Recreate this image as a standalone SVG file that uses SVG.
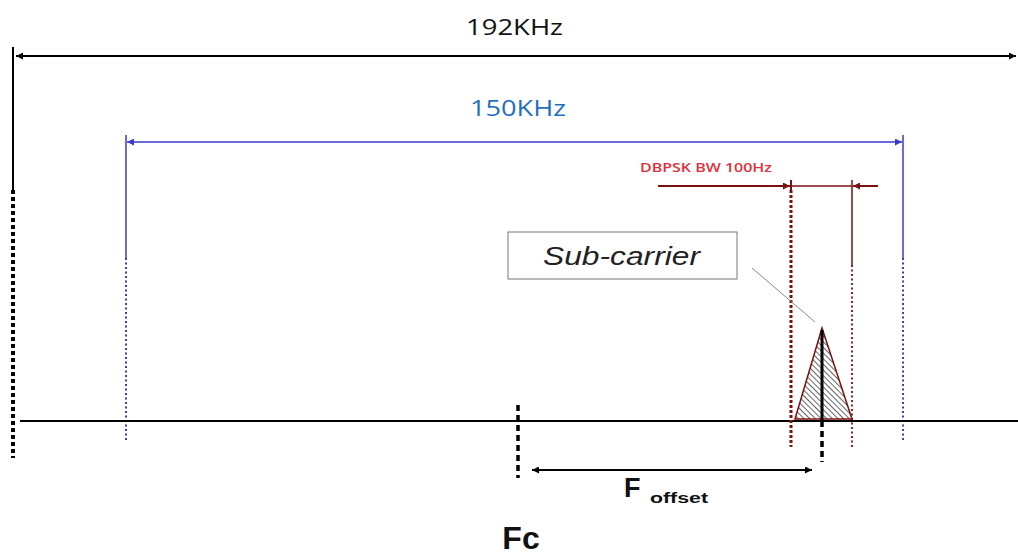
<svg xmlns="http://www.w3.org/2000/svg" width="1018" height="556" viewBox="0 0 1018 556">
<style>
.t{font-family:"Liberation Sans",Arial,sans-serif}
.o{font-family:"Open Sans","Liberation Sans",sans-serif}
.blk{stroke:#000;fill:none}
.blu{stroke:#3a3ad0;fill:none}
.red{stroke:#7a1010;fill:none}
</style>
<defs>
<marker id="abk" viewBox="0 0 10 10" refX="10" refY="5" markerWidth="9" markerHeight="7" orient="auto-start-reverse" markerUnits="userSpaceOnUse"><path d="M0,0 L10,5 L0,10 Z" fill="#000"/></marker>
<marker id="abl" viewBox="0 0 10 10" refX="10" refY="5" markerWidth="9" markerHeight="7" orient="auto-start-reverse" markerUnits="userSpaceOnUse"><path d="M0,0 L10,5 L0,10 Z" fill="#3a3ad0"/></marker>
<marker id="ar" viewBox="0 0 10 10" refX="10" refY="5" markerWidth="9" markerHeight="7" orient="auto" markerUnits="userSpaceOnUse"><path d="M0,0 L10,5 L0,10 Z" fill="#7a1010"/></marker>
<pattern id="hatch" patternUnits="userSpaceOnUse" width="4" height="4" patternTransform="rotate(-45)"><line x1="0" y1="0" x2="0" y2="4" stroke="#000" stroke-width="1.2"/></pattern>
</defs>
<rect width="1018" height="556" fill="#fff"/>
<g id="connectors">
<line class="blk" x1="13" y1="47" x2="13" y2="190" stroke-width="2"/>
<line class="blk" x1="13" y1="190" x2="13" y2="458" stroke-width="4" stroke-dasharray="4,3"/>
<line class="blk" x1="16" y1="56" x2="1016" y2="56" stroke-width="2" marker-start="url(#abk)" marker-end="url(#abk)"/>
<line class="blu" x1="126" y1="135" x2="126" y2="258" stroke-width="1.5"/>
<line class="blu" x1="126" y1="258" x2="126" y2="440" stroke-width="2" stroke-dasharray="2,2.5"/>
<line class="blu" x1="903" y1="135" x2="903" y2="258" stroke-width="1.5"/>
<line class="blu" x1="903" y1="258" x2="903" y2="440" stroke-width="2" stroke-dasharray="2,2.5"/>
<line class="blu" x1="127" y1="142" x2="902" y2="142" stroke-width="1.5" marker-start="url(#abl)" marker-end="url(#abl)"/>
<line class="blk" x1="20" y1="421" x2="1018" y2="421" stroke-width="1.8"/>
<line class="red" x1="658" y1="186" x2="790" y2="186" stroke-width="2" marker-end="url(#ar)"/>
<line class="red" x1="791" y1="186" x2="852" y2="186" stroke-width="1.5"/>
<line class="red" x1="878" y1="186" x2="853" y2="186" stroke-width="2" marker-end="url(#ar)"/>
<line class="red" x1="791" y1="180" x2="791" y2="190" stroke-width="2"/>
<line class="red" x1="791" y1="190" x2="791" y2="447" stroke-width="3" stroke-dasharray="3,2"/>
<line class="red" x1="852" y1="180" x2="852" y2="265" stroke-width="1.5"/>
<line class="red" x1="852" y1="265" x2="852" y2="447" stroke-width="1.8" stroke-dasharray="2,2.5"/>
<line x1="752" y1="268" x2="815" y2="322" stroke="#888" stroke-width="1"/>
<line class="blk" x1="518" y1="405" x2="518" y2="478" stroke-width="3.5" stroke-dasharray="6,4"/>
<line class="blk" x1="822" y1="421" x2="822" y2="462" stroke-width="3.5" stroke-dasharray="6,4"/>
<line class="blk" x1="532" y1="470" x2="812" y2="470" stroke-width="2" marker-start="url(#abk)" marker-end="url(#abk)"/>
</g>
<g id="subcarrier-peak">
<polygon points="822,328 795,419 852,419" fill="url(#hatch)" stroke="#7a1010" stroke-width="1.5"/>
<line x1="822" y1="330" x2="822" y2="421" stroke="#000" stroke-width="3"/>
</g>
<g id="subcarrier-label">
<rect x="508" y="232" width="229" height="47" fill="#fff" stroke="#777" stroke-width="1"/>
<text class="t" x="543" y="265" font-size="25" font-style="italic" textLength="157" lengthAdjust="spacingAndGlyphs" fill="#222">Sub-carrier</text>
</g>
<g id="labels">
<text class="o" x="466" y="35" font-size="21" textLength="97" lengthAdjust="spacingAndGlyphs" fill="#111">192KHz</text>
<text class="o" x="470" y="116" font-size="22" textLength="96" lengthAdjust="spacingAndGlyphs" fill="#1f6fbf">150KHz</text>
<text class="o" x="640" y="172" font-size="12" font-weight="600" textLength="132" lengthAdjust="spacingAndGlyphs" fill="#e0303c">DBPSK BW 100Hz</text>
<text class="t" x="521" y="549" font-size="32" font-weight="bold" text-anchor="middle" fill="#111">Fc</text>
<text class="t" x="624" y="497" font-size="27" font-weight="bold" fill="#111">F</text>
<text class="t" x="650" y="503" font-size="14" font-weight="bold" textLength="58" lengthAdjust="spacingAndGlyphs" fill="#111">offset</text>
</g>
</svg>
